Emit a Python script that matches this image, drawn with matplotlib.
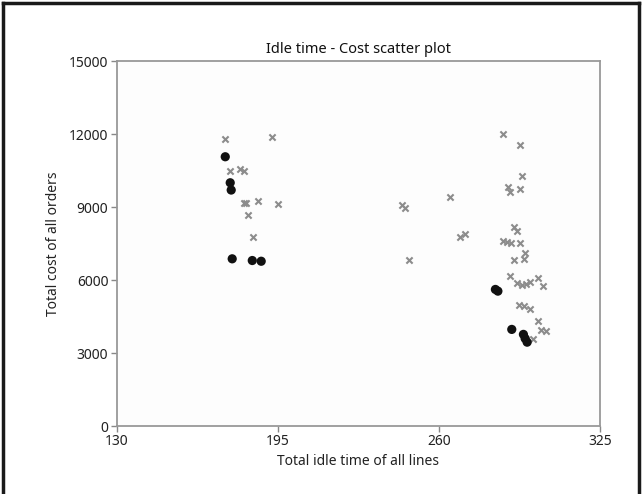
import matplotlib
matplotlib.use("Agg")
import matplotlib.pyplot as plt
from matplotlib.lines import Line2D

plt.rcParams['font.family'] = ['Noto Sans', 'DejaVu Sans']

title = "Idle time - Cost scatter plot"
xlabel = "Total idle time of all lines"
ylabel = "Total cost of all orders"
xticks = [130, 195, 260, 325]
yticks = [0, 3000, 6000, 9000, 12000, 15000]

cross_x = [173.8, 192.7, 175.8, 179.6, 181.2, 181.5, 182.3, 187.0, 195.0, 183.1, 185.0,
           245.0, 246.4, 264.4, 268.7, 270.7, 247.8,
           285.8, 292.8, 293.7, 287.8, 288.8, 292.8, 290.1, 291.4, 286.0, 287.4, 289.2,
           292.8, 294.6, 294.2, 290.3, 288.8, 291.6, 293.4, 295.2, 296.6, 299.9, 302.1,
           292.2, 294.3, 296.6, 300.0, 301.0, 303.3, 297.8]
cross_y = [11800, 11900, 10500, 10560, 10500, 9190, 9190, 9260, 9120, 8690, 7780,
           9110, 8990, 9420, 7780, 7920, 6850,
           12000, 11550, 10290, 9840, 9630, 9740, 8190, 8030, 7610, 7580, 7540,
           7540, 7120, 6890, 6850, 6170, 5870, 5820, 5850, 5930, 6070, 5770,
           4970, 4930, 4820, 4310, 3960, 3900, 3600]

dot_x = [173.8, 175.8, 176.2, 176.6, 184.7, 188.3, 282.8, 283.8, 289.4, 294.1, 294.8, 295.6]
dot_y = [11080, 10010, 9710, 6880, 6810, 6780, 5620, 5550, 3975, 3770, 3600, 3450]

W, H = 642, 494
fig = plt.figure(figsize=(W / 100, H / 100), dpi=100)
fig.patch.set_facecolor('white')
ax = fig.add_axes([116.7 / W, 1 - 426 / H, (600 - 116.7) / W, (426 - 61.5) / H])
ax.set_facecolor('#fdfdfd')

ax.scatter(cross_x, cross_y, marker='x', s=20, color='#8c8c8c', linewidths=1.5, zorder=2)
ax.scatter(dot_x, dot_y, marker='o', s=44, color='#111111', edgecolors='none', zorder=3)

ax.set_xlim(130, 325)
ax.set_ylim(0, 15000)
ax.set_xticks(xticks)
ax.set_yticks(yticks)
ax.set_xticklabels([str(t) for t in xticks])
ax.set_yticklabels([str(t) for t in yticks])
ax.tick_params(direction='out', length=4, width=1, color='#888888', labelsize=10,
               labelcolor='#222222', pad=2)
for s in ax.spines.values():
    s.set_color('#999999')
    s.set_linewidth(1.3)

ax.set_title(title, fontsize=10.5, color='#111111', pad=6)
ax.set_xlabel(xlabel, fontsize=10, color='#222222', labelpad=3)
ax.set_ylabel(ylabel, fontsize=10, color='#222222', labelpad=6)

# outer frame
lw = 2.5
fig.add_artist(Line2D([3 / W, 3 / W], [0, 1 - 3 / H], transform=fig.transFigure, color='#1a1a1a', lw=lw))
fig.add_artist(Line2D([3 / W, 639 / W], [1 - 3 / H, 1 - 3 / H], transform=fig.transFigure, color='#1a1a1a', lw=lw))
fig.add_artist(Line2D([639 / W, 639 / W], [0, 1 - 3 / H], transform=fig.transFigure, color='#1a1a1a', lw=lw))

fig.savefig("out.png", dpi=100, facecolor='white')
